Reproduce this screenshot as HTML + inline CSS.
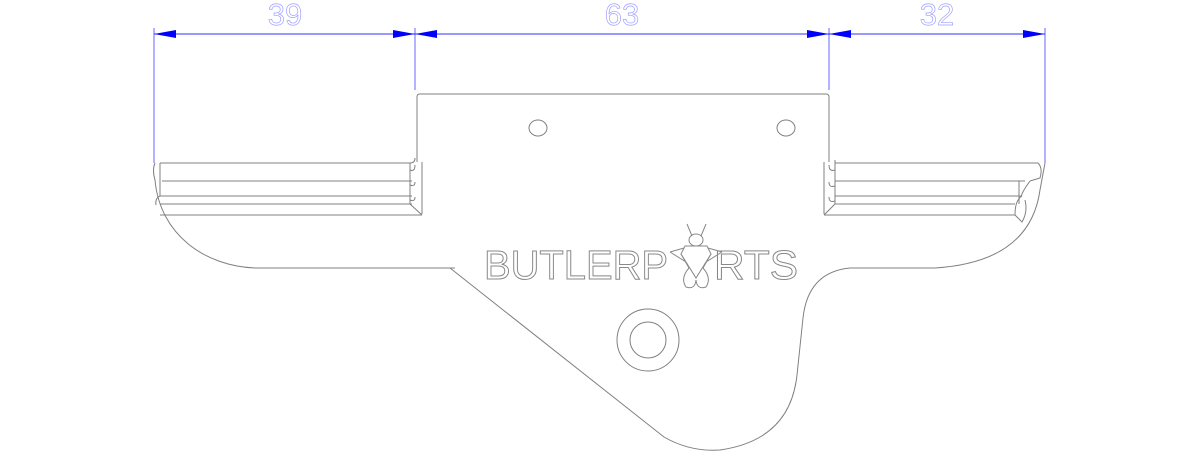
<!DOCTYPE html>
<html><head><meta charset="utf-8"><style>
html,body{margin:0;padding:0;background:#fff;width:1200px;height:458px;overflow:hidden}
</style></head><body>
<svg width="1200" height="458" viewBox="0 0 1200 458" xmlns="http://www.w3.org/2000/svg">
<g stroke="#8080ff" stroke-width="1.2" fill="none">
<line x1="154" y1="28" x2="154" y2="163"/>
<line x1="415" y1="28" x2="415" y2="90"/>
<line x1="829" y1="28" x2="829" y2="90"/>
<line x1="1045" y1="28" x2="1045" y2="163"/>
</g>
<line x1="154" y1="34" x2="1045" y2="34" stroke="#3030ff" stroke-width="1"/>
<g fill="#0000ff">
<polygon points="154,34 176,30 176,38"/>
<polygon points="415,34 393,30 393,38"/>
<polygon points="415,34 437,30 437,38"/>
<polygon points="829,34 807,30 807,38"/>
<polygon points="829,34 851,30 851,38"/>
<polygon points="1045,34 1023,30 1023,38"/>
</g>
<g font-family="Liberation Sans, sans-serif" font-size="31" fill="none" stroke="#a0a0ff" stroke-width="0.7" text-anchor="middle">
<text x="285" y="25">39</text>
<text x="622" y="25">63</text>
<text x="937" y="25">32</text>
</g>
<g stroke="#808080" stroke-width="1" fill="none">
<!-- top plate -->
<path d="M417,162 L417,97 Q417,94 420,94 L826,94 Q829,94 829,97 L829,162"/>
<path d="M422,214 L422,162 M824,214 L824,162"/>
<!-- left rails -->
<path d="M160,163 L410,163 Q415,163 415,158"/>
<path d="M162,181 L412,181 M160,196 L412,196 M160,204 L412,204 M160,215 L422,215"/>
<path d="M160,163 L160,196 M410,163 L410,204 L422,215"/>
<path d="M160,196 Q155,198 156,205"/>
<path d="M410,170 Q415,172 415,165 M410,185 Q415,187 415,182 M410,200 Q415,202 415,197"/>
<!-- right rails -->
<path d="M835,163 L1038,163 M835,181 L1025,181 M835,196 L1022,196 M835,204 L1015,204 M824,215 L1015,215"/>
<path d="M835,160 L835,204 L824,215 M1019,181 L1019,204"/>
<path d="M829,165 Q829,172 835,170 M829,182 Q829,188 835,186 M829,197 Q829,203 835,201"/>
<path d="M1038,163 Q1043,168 1040,178 L1030,181 M1030,181 Q1020,195 1022,196 M1022,196 Q1015,200 1015,215 M1015,215 L1022,222 Q1028,212 1025,200"/>
<!-- outer outline -->
<path d="M155,163 Q152,170 155,180 C160,235 205,266 255,268 L455,268"/>
<path d="M450,268 L664,437 Q690,452 720,450 Q790,440 797,375 L803,318 Q808,272 850,268 L935,268 Q1030,262 1040,190 L1045,163"/>
<!-- holes -->
<ellipse cx="538" cy="128" rx="9" ry="8"/>
<ellipse cx="786" cy="128" rx="9" ry="8"/>
<circle cx="648" cy="340" r="31"/>
<circle cx="648" cy="340" r="18"/>
</g>
<g font-family="Liberation Sans, sans-serif" font-size="41" fill="none" stroke="#888" stroke-width="1">
<text x="484" y="279" textLength="184" lengthAdjust="spacingAndGlyphs">BUTLERP</text>
<text x="714" y="279" textLength="84" lengthAdjust="spacingAndGlyphs">RTS</text>
</g>
<!-- fly -->
<g stroke="#888" stroke-width="1" fill="none">
<path d="M687,224 L692,236 M706,224 L701,236"/>
<ellipse cx="696" cy="240" rx="7" ry="6"/>
<path d="M685,246 L707,246 L711,254 L703,268 Q712,278 706,287 Q697,290 696,280 Q695,290 686,287 Q680,278 689,268 L681,254 Z"/>
<path d="M681,254 L696,278 L711,254 M684,248 L670,252 M708,248 L722,252 M670,252 L686,262 M722,252 L706,262"/>
</g>
</svg>
</body></html>
